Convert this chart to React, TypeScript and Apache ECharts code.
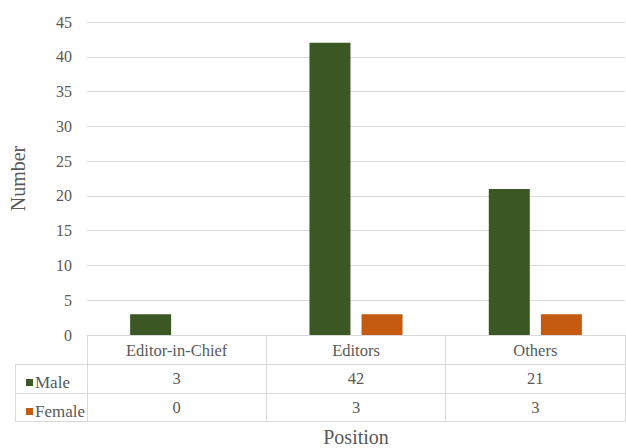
import React, { useEffect, useRef } from "react";
import * as echarts from "echarts";

const categories = ["Editor-in-Chief", "Editors", "Others"];
const maleValues = [3, 42, 21];
const femaleValues = [0, 3, 3];
const seriesNames = ["Male", "Female"];
const yTicks = { min: 0, max: 45, interval: 5 };

const FONT = "Liberation Serif";
const TXT = "#595959";
const LINE = "#d9d9d9";

export default function App() {
  const ref = useRef<HTMLDivElement>(null);
  useEffect(() => {
    if (!ref.current) return;
    document.body.style.margin = "0";
    const chart = echarts.init(ref.current, undefined, { renderer: "svg" });
    const rowAxis = (offset: number, values: number[] | null, extra: any = {}) => ({
      type: "category",
      data: categories,
      position: "bottom",
      offset,
      axisLine: { show: true, lineStyle: { color: LINE, width: 1 } },
      axisTick: { show: false },
      axisLabel: values
        ? {
            show: true,
            margin: 6,
            fontFamily: FONT,
            fontSize: 16.5,
            color: TXT,
            formatter: (_v: string, i: number) => String(values[i]),
          }
        : { show: false },
      ...extra,
    });
    chart.setOption({
      animation: false,
      grid: { left: 87, right: 1, top: 22, bottom: 113, outerBoundsMode: "none" },
      legend: {
        data: seriesNames,
        orient: "vertical",
        left: 21,
        top: 369,
        itemWidth: 7,
        itemHeight: 7,
        itemGap: 12,
        icon: "rect",
        textStyle: { fontFamily: FONT, fontSize: 17, color: TXT, padding: [0, 0, 0, -3] },
        selectedMode: false,
      },
      xAxis: [
        {
          type: "category",
          data: categories,
          position: "bottom",
          axisLine: { show: true, lineStyle: { color: LINE, width: 1 } },
          axisTick: { show: true, length: 86, lineStyle: { color: LINE, width: 1 } },
          axisLabel: { margin: 7, fontFamily: FONT, fontSize: 16.5, color: TXT },
        },
        rowAxis(29, maleValues),
        rowAxis(58, femaleValues),
        rowAxis(86, null, {
          name: "Position",
          nameLocation: "middle",
          nameGap: 6,
          nameTextStyle: { fontFamily: FONT, fontSize: 20, color: TXT },
        }),
      ],
      yAxis: {
        type: "value",
        min: yTicks.min,
        max: yTicks.max,
        interval: yTicks.interval,
        name: "Number",
        nameLocation: "middle",
        nameGap: 59,
        nameRotate: 90,
        nameTextStyle: { fontFamily: FONT, fontSize: 20, color: TXT },
        axisLine: { show: false },
        axisTick: { show: false },
        axisLabel: { margin: 15, fontFamily: FONT, fontSize: 16, color: TXT },
        splitLine: { lineStyle: { color: LINE, width: 1 } },
      },
      series: [
        {
          name: seriesNames[0],
          type: "bar",
          data: maleValues,
          barWidth: 41,
          barGap: "27%",
          itemStyle: { color: "#3A5724" },
        },
        {
          name: seriesNames[1],
          type: "bar",
          data: femaleValues,
          barWidth: 41,
          itemStyle: { color: "#C55A11" },
        },
      ],
      graphic: [
        { type: "line", shape: { x1: 15, y1: 364.5, x2: 87, y2: 364.5 }, style: { stroke: LINE, lineWidth: 1 } },
        { type: "line", shape: { x1: 15, y1: 393.5, x2: 87, y2: 393.5 }, style: { stroke: LINE, lineWidth: 1 } },
        { type: "line", shape: { x1: 15, y1: 421.5, x2: 87, y2: 421.5 }, style: { stroke: LINE, lineWidth: 1 } },
        { type: "line", shape: { x1: 15.5, y1: 364, x2: 15.5, y2: 422 }, style: { stroke: LINE, lineWidth: 1 } },
      ],
    });
    return () => chart.dispose();
  }, []);
  return <div ref={ref} style={{ width: 626, height: 448, background: "#fff" }} />;
}
